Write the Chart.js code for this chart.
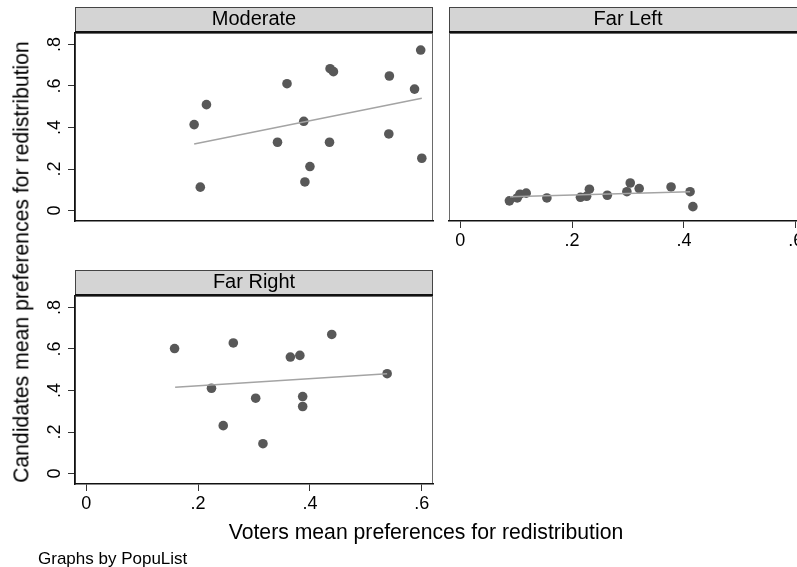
<!DOCTYPE html>
<html>
<head>
<meta charset="utf-8">
<title>Voters and candidates preferences for redistribution</title>
<script src="https://cdn.jsdelivr.net/npm/chart.js@4.4.1/dist/chart.umd.min.js"></script>
<style>
  html, body { margin: 0; padding: 0; background: #fff; overflow: hidden; }
  body { width: 797px; height: 567px; position: relative; font-family: "Liberation Sans", Arial, sans-serif; color: #000; }
  canvas { position: absolute; left: 0; top: 0; }
  .txt { position: absolute; white-space: nowrap; line-height: 1; }
  #ytitle { left: 21px; top: 262px; font-size: 21.2px; transform: translate(-50%, -50%) rotate(-90deg); }
  #xtitle { left: 426px; top: 532px; font-size: 21.2px; transform: translate(-50%, -50%); }
  #note { left: 38px; top: 550px; font-size: 17px; }
</style>
</head>
<body>
<canvas id="moderate" width="797" height="567"></canvas>
<canvas id="farLeft" width="830" height="567"></canvas>
<canvas id="farRight" width="797" height="567"></canvas>
<div class="txt" id="ytitle">Candidates mean preferences for redistribution</div>
<div class="txt" id="xtitle">Voters mean preferences for redistribution</div>
<div class="txt" id="note">Graphs by PopuList</div>
<script>
'use strict';
// panel names and axis ticks
let panelNames = ['Moderate', 'Far Left', 'Far Right'];
let xTickValues = [0, 0.2, 0.4, 0.6];
let xTickLabels = ['0', '.2', '.4', '.6'];
let yTickValues = [0, 0.2, 0.4, 0.6, 0.8];
let yTickLabels = ['0', '.2', '.4', '.6', '.8'];

// Moderate parties: voters (x) vs candidates (y)
let moderateVoters = [0.193, 0.215, 0.204, 0.342, 0.359, 0.389, 0.391, 0.400, 0.435, 0.436, 0.442, 0.542, 0.541, 0.587, 0.598, 0.600];
let moderateCandidates = [0.414, 0.510, 0.113, 0.329, 0.611, 0.430, 0.138, 0.212, 0.329, 0.683, 0.669, 0.648, 0.369, 0.585, 0.773, 0.252];
let moderateFitX = [0.193, 0.600];
let moderateFitY = [0.321, 0.541];

// Far left parties
let farLeftVoters = [0.088, 0.102, 0.107, 0.118, 0.155, 0.215, 0.226, 0.231, 0.263, 0.298, 0.304, 0.320, 0.377, 0.411, 0.416];
let farLeftCandidates = [0.047, 0.061, 0.079, 0.084, 0.061, 0.064, 0.069, 0.103, 0.074, 0.091, 0.133, 0.106, 0.114, 0.091, 0.019];
let farLeftFitX = [0.089, 0.411];
let farLeftFitY = [0.067, 0.091];

// Far right parties
let farRightVoters = [0.158, 0.224, 0.245, 0.263, 0.303, 0.316, 0.365, 0.382, 0.387, 0.387, 0.439, 0.538];
let farRightCandidates = [0.602, 0.411, 0.231, 0.629, 0.363, 0.144, 0.561, 0.569, 0.371, 0.323, 0.670, 0.481];
let farRightFitX = [0.159, 0.538];
let farRightFitY = [0.416, 0.481];

Chart.defaults.font.family = '"Liberation Sans", Arial, sans-serif';
Chart.defaults.color = '#000';

// strip header, plot outline and vertical y labels
let panelFrame = {
  id: 'panelFrame',
  beforeDraw(chart, args, opts) {
    let ctx = chart.ctx;
    let a = chart.chartArea;
    ctx.save();
    ctx.strokeStyle = '#6a6a6a';
    ctx.lineWidth = 1;
    ctx.strokeRect(a.left + 0.5, a.top + 0.5, a.right - a.left - 1, a.bottom - a.top - 1);
    ctx.restore();
  },
  afterDraw(chart, args, opts) {
    let ctx = chart.ctx;
    let a = chart.chartArea;
    ctx.save();
    // header strip
    ctx.fillStyle = '#d4d4d4';
    ctx.fillRect(a.left, a.top - 26, a.right - a.left, 26);
    ctx.strokeStyle = '#444';
    ctx.lineWidth = 1;
    ctx.strokeRect(a.left + 0.5, a.top - 25.5, a.right - a.left - 1, 25);
    ctx.fillStyle = '#111';
    ctx.fillRect(a.left, a.top - 2, a.right - a.left, 2);
    ctx.fillStyle = '#000';
    ctx.font = '20px "Liberation Sans", Arial, sans-serif';
    ctx.textAlign = 'center';
    ctx.textBaseline = 'alphabetic';
    ctx.fillText(opts.title, (a.left + a.right) / 2, a.top - 8.5);

    // y tick labels read bottom to top
    if (opts.yLabels) {
      let y = chart.scales.y;
      ctx.font = '18px "Liberation Sans", Arial, sans-serif';
      y.ticks.forEach(function (t, i) {
        ctx.save();
        ctx.translate(y.right - 15, y.getPixelForValue(t.value));
        ctx.rotate(-Math.PI / 2);
        ctx.fillText(yTickLabels[i], 0, 0);
        ctx.restore();
      });
    }
    ctx.restore();
  }
};

function points(xs, ys) {
  return xs.map(function (x, i) { return { x: x, y: ys[i] }; });
}

function makePanel(id, title, voters, candidates, fitX, fitY, frame) {
  let ctx = document.getElementById(id).getContext('2d');
  return new Chart(ctx, {
    type: 'scatter',
    data: {
      datasets: [{
        type: 'line',
        data: points(fitX, fitY),
        borderColor: '#a4a4a4',
        borderWidth: 1.5,
        pointRadius: 0,
        fill: false
      }, {
        data: points(voters, candidates),
        backgroundColor: '#585858',
        borderColor: '#585858',
        borderWidth: 0,
        pointRadius: 4.8
      }]
    },
    options: {
      responsive: false,
      animation: false,
      devicePixelRatio: 1,
      layout: { padding: frame.padding },
      plugins: {
        legend: { display: false },
        tooltip: { enabled: false },
        panelFrame: { title: title, yLabels: frame.yAxis }
      },
      scales: {
        x: {
          type: 'linear',
          min: -0.02,
          max: 0.62,
          afterBuildTicks: function (s) { s.ticks = xTickValues.map(function (v) { return { value: v }; }); },
          afterFit: function (s) { s.height = frame.xHeight; },
          ticks: {
            display: frame.xLabels,
            padding: 2,
            font: { size: 18 },
            callback: function (v, i) { return xTickLabels[i]; }
          },
          grid: { drawOnChartArea: false, drawTicks: frame.xLabels, tickLength: 7, color: '#333' },
          border: { display: true, color: '#111', width: 1.5 }
        },
        y: {
          type: 'linear',
          display: frame.yAxis,
          min: -0.05,
          max: 0.855,
          afterBuildTicks: function (s) { s.ticks = yTickValues.map(function (v) { return { value: v }; }); },
          afterFit: function (s) { s.width = frame.yAxis ? 75 : 0; },
          ticks: { display: false },
          grid: { drawOnChartArea: false, drawTicks: true, tickLength: 7, color: '#333' },
          border: { display: true, color: '#111', width: 1.5 }
        }
      }
    },
    plugins: [panelFrame]
  });
}

makePanel('moderate', panelNames[0], moderateVoters, moderateCandidates, moderateFitX, moderateFitY, {
  padding: { left: 0, top: 33, right: 364, bottom: 0 }, xHeight: 346, xLabels: false, yAxis: true
});
makePanel('farLeft', panelNames[1], farLeftVoters, farLeftCandidates, farLeftFitX, farLeftFitY, {
  padding: { left: 449, top: 33, right: 23, bottom: 0 }, xHeight: 346, xLabels: true, yAxis: false
});
makePanel('farRight', panelNames[2], farRightVoters, farRightCandidates, farRightFitX, farRightFitY, {
  padding: { left: 0, top: 296, right: 364, bottom: 0 }, xHeight: 83, xLabels: true, yAxis: true
});
</script>
</body>
</html>
